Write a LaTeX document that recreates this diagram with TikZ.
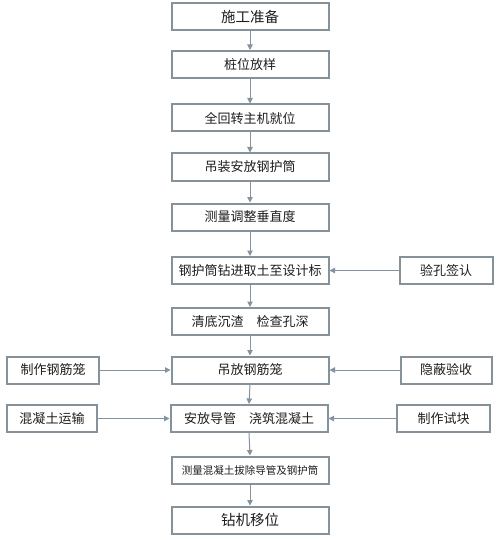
\documentclass[tikz,border=0pt]{standalone}
\usepackage{fontspec}
\newfontfamily\cjk{Noto Sans CJK SC}
\usetikzlibrary{arrows.meta}
\definecolor{boxline}{HTML}{86929A}
\definecolor{arrline}{HTML}{8593A0}
\definecolor{txt}{HTML}{1E1E1E}
\begin{document}
\begin{tikzpicture}[x=1pt,y=-1pt,
  mainbox/.style={draw=boxline,line width=2pt,fill=white,minimum width=157pt,minimum height=27pt,inner sep=0pt,font=\cjk\fontsize{13}{15}\selectfont,text=txt},
  sidebox/.style={draw=boxline,line width=2pt,fill=white,minimum height=27pt,inner sep=0pt,font=\cjk\fontsize{13}{15}\selectfont,text=txt},
  flow/.style={draw=arrline,line width=1pt,-{Triangle[length=5.5pt,width=5.5pt]}}]
\useasboundingbox (0,0) rectangle (502,540);
\fill[white] (0,0) rectangle (502,540);
\node[mainbox,font=\cjk\fontsize{14.5}{16}\selectfont] (n1) at (250,17) {施工准备};
\node[mainbox] (n2) at (250,64.5) {桩位放样};
\node[mainbox] (n3) at (250,118) {全回转主机就位};
\node[mainbox] (n4) at (250,167) {吊装安放钢护筒};
\node[mainbox] (n5) at (250,217) {测量调整垂直度};
\node[mainbox] (n6) at (250,270.5) {钢护筒钻进取土至设计标};
\node[mainbox] (n7) at (250,321.5) {清底沉渣\hspace{1em}检查孔深};
\node[mainbox] (n8) at (250,370) {吊放钢筋笼};
\node[mainbox] (n9) at (249,418.5) {安放导管\hspace{1em}浇筑混凝土};
\node[mainbox,font=\cjk\fontsize{10.5}{12}\selectfont] (n10) at (250,470) {测量混凝土拔除导管及钢护筒};
\node[mainbox,font=\cjk\fontsize{14.5}{16}\selectfont] (n11) at (250,520) {钻机移位};
\node[sidebox,minimum width=93pt] (s1) at (446,270.5) {验孔签认};
\node[sidebox,minimum width=92pt] (s2) at (53,370) {制作钢筋笼};
\node[sidebox,minimum width=91pt] (s3) at (446,370) {隐蔽验收};
\node[sidebox,minimum width=90pt] (s4) at (52,418.5) {混凝土运输};
\node[sidebox,minimum width=93pt] (s5) at (443.5,418.5) {制作试块};
\foreach \a/\b in {n1/n2,n2/n3,n3/n4,n4/n5,n5/n6,n6/n7,n7/n8,n8/n9,n9/n10,n10/n11}
  \draw[flow] (\a.south) -- (\b.north);
\draw[flow] (s1.west) -- (n6.east);
\draw[flow] (s2.east) -- (n8.west);
\draw[flow] (s3.west) -- (n8.east);
\draw[flow] (s4.east) -- (n9.west);
\draw[flow] (s5.west) -- (n9.east);
\end{tikzpicture}
\end{document}
